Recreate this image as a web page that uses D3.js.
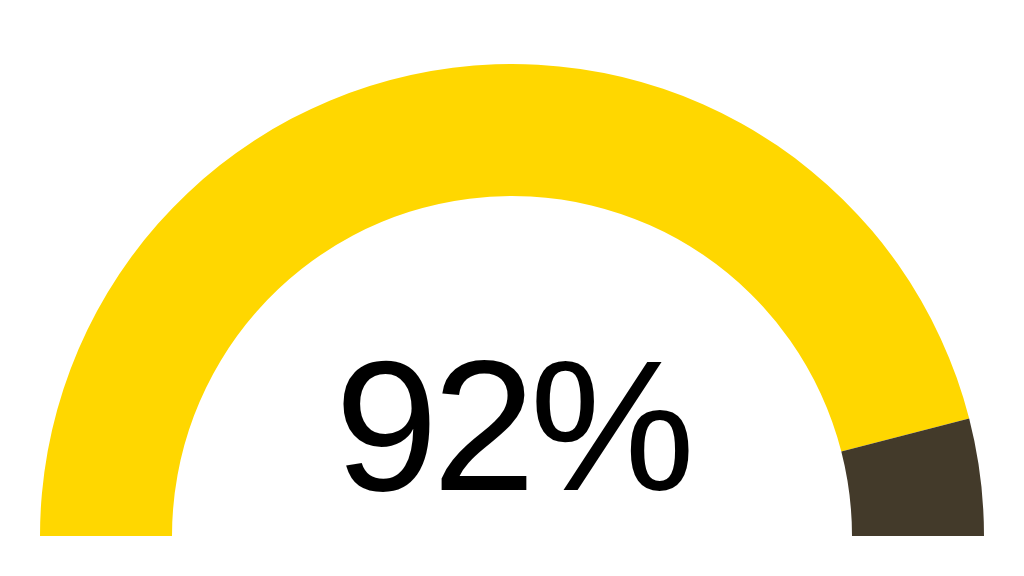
<!DOCTYPE html>
<html>
<head>
<meta charset="utf-8">
<script src="https://cdn.jsdelivr.net/npm/d3@7"></script>
<style>
  html, body { margin: 0; padding: 0; background: #fff; }
</style>
</head>
<body>
<svg></svg>
<script>
// gauge data
const labels = ["Done", "Remaining"];
const values = [92, 8];
const colors = ["#FFD700", "#433A2A"];
const centerLabel = "92%";

const svgWidth = 1024;
const svgHeight = 576;
const cx = 512, cy = 536;
const outerR = 472, innerR = 340;

const svg = d3.select("svg")
  .attr("width", svgWidth)
  .attr("height", svgHeight);

const pie = d3.pie()
  .sort(null)
  .startAngle(-Math.PI / 2)
  .endAngle(Math.PI / 2);

const arc = d3.arc()
  .innerRadius(innerR)
  .outerRadius(outerR);

const g = svg.append("g")
  .attr("transform", `translate(${cx},${cy})`);

g.selectAll("path")
  .data(pie(values))
  .join("path")
  .attr("fill", (d, i) => colors[i])
  .attr("d", arc);

g.append("text")
  .attr("x", 0)
  .attr("y", -46)
  .attr("text-anchor", "middle")
  .attr("font-family", "Liberation Sans, Arial, sans-serif")
  .attr("font-size", 186)
  .attr("letter-spacing", -6)
  .attr("fill", "#000")
  .text(centerLabel);
</script>
</body>
</html>
